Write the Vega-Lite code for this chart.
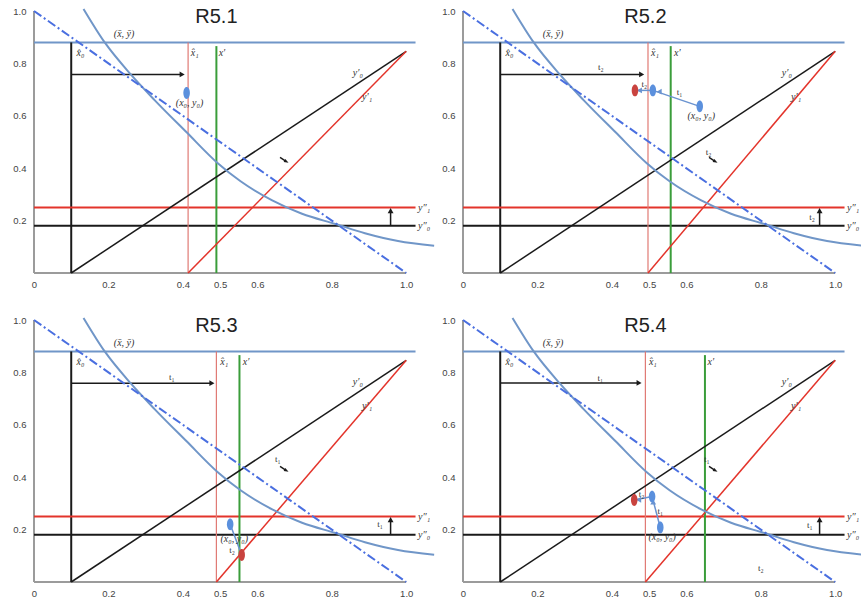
{
  "$schema": "https://vega.github.io/schema/vega-lite/v6.json",
  "padding": {"left": 12, "top": 4, "right": 0, "bottom": 0},
  "background": "white",
  "bounds": "flush",
  "columns": 2,
  "spacing": {"row": 47, "column": 27},
  "data": {"values": [
    {"p":[1,2,3,4],"k":"seg","s":"axis","x":0,"y":0,"x2":1,"y2":0},
    {"p":[1,2,3,4],"k":"seg","s":"axis","x":0,"y":0,"x2":0,"y2":1},
    {"p":[1,2,3,4],"k":"seg","s":"mean","x":0,"y":0.88,"x2":1.025,"y2":0.88},
    {"p":[1,2,3,4],"k":"seg","s":"x0hat","x":0.1,"y":0,"x2":0.1,"y2":0.88},
    {"p":[1,2,3,4],"k":"seg","s":"y0p","x":0.1,"y":0,"x2":1,"y2":0.846},
    {"p":[1,2,3,4],"k":"seg","s":"y1pp","x":0,"y":0.25,"x2":1.025,"y2":0.25},
    {"p":[1,2,3,4],"k":"seg","s":"y0pp","x":0,"y":0.18,"x2":1.025,"y2":0.18},
    {"p":[1,2,3,4],"k":"seg","s":"budget","x":0,"y":1,"x2":1,"y2":0},
    {"p":[1,2,3,4],"k":"seg","s":"arrow","x":0.958,"y":0.18,"x2":0.958,"y2":0.236},
    {"p":[1,2,3,4],"k":"seg","s":"arrow","x":0.661,"y":0.441,"x2":0.675,"y2":0.428},

    {"p":[1],"k":"seg","s":"x1hat","x":0.414,"y":0,"x2":0.414,"y2":0.88},
    {"p":[1],"k":"seg","s":"xprime","x":0.49,"y":0,"x2":0.49,"y2":0.866},
    {"p":[1],"k":"seg","s":"y1p","x":0.414,"y":0,"x2":1,"y2":0.846},
    {"p":[1],"k":"seg","s":"arrow","x":0.1,"y":0.758,"x2":0.397,"y2":0.758},

    {"p":[2],"k":"seg","s":"x1hat","x":0.497,"y":0,"x2":0.497,"y2":0.88},
    {"p":[2],"k":"seg","s":"xprime","x":0.558,"y":0,"x2":0.558,"y2":0.866},
    {"p":[2],"k":"seg","s":"y1p","x":0.497,"y":0,"x2":1,"y2":0.846},
    {"p":[2],"k":"seg","s":"arrow","x":0.1,"y":0.758,"x2":0.479,"y2":0.758},
    {"p":[2],"k":"seg","s":"path","x":0.636,"y":0.636,"x2":0.51,"y2":0.697},
    {"p":[2],"k":"seg","s":"path","x":0.51,"y":0.697,"x2":0.462,"y2":0.697},

    {"p":[3],"k":"seg","s":"x1hat","x":0.49,"y":0,"x2":0.49,"y2":0.88},
    {"p":[3],"k":"seg","s":"xprime","x":0.552,"y":0,"x2":0.552,"y2":0.866},
    {"p":[3],"k":"seg","s":"y1p","x":0.49,"y":0,"x2":1,"y2":0.846},
    {"p":[3],"k":"seg","s":"arrow","x":0.1,"y":0.759,"x2":0.477,"y2":0.759},
    {"p":[3],"k":"seg","s":"path","x":0.527,"y":0.22,"x2":0.558,"y2":0.103},

    {"p":[4],"k":"seg","s":"x1hat","x":0.49,"y":0,"x2":0.49,"y2":0.88},
    {"p":[4],"k":"seg","s":"xprime","x":0.65,"y":0,"x2":0.65,"y2":0.866},
    {"p":[4],"k":"seg","s":"y1p","x":0.49,"y":0,"x2":1,"y2":0.846},
    {"p":[4],"k":"seg","s":"arrow","x":0.1,"y":0.76,"x2":0.472,"y2":0.76},
    {"p":[4],"k":"seg","s":"path","x":0.53,"y":0.208,"x2":0.508,"y2":0.326},
    {"p":[4],"k":"seg","s":"path","x":0.508,"y":0.326,"x2":0.46,"y2":0.313},

    {"p":[1,2,3,4],"k":"curve","x":0.133,"y":1.008},
    {"p":[1,2,3,4],"k":"curve","x":0.19,"y":0.88},
    {"p":[1,2,3,4],"k":"curve","x":0.26,"y":0.758},
    {"p":[1,2,3,4],"k":"curve","x":0.324,"y":0.66},
    {"p":[1,2,3,4],"k":"curve","x":0.41,"y":0.537},
    {"p":[1,2,3,4],"k":"curve","x":0.493,"y":0.42},
    {"p":[1,2,3,4],"k":"curve","x":0.555,"y":0.35},
    {"p":[1,2,3,4],"k":"curve","x":0.64,"y":0.277},
    {"p":[1,2,3,4],"k":"curve","x":0.72,"y":0.226},
    {"p":[1,2,3,4],"k":"curve","x":0.81,"y":0.187},
    {"p":[1,2,3,4],"k":"curve","x":0.889,"y":0.152},
    {"p":[1,2,3,4],"k":"curve","x":0.978,"y":0.122},
    {"p":[1,2,3,4],"k":"curve","x":1.075,"y":0.104},

    {"p":[1,2,3,4],"k":"head","s":"arrow","d":"up","x":0.958,"y":0.238},
    {"p":[1,2,3,4],"k":"head","s":"arrow","d":"se","x":0.677,"y":0.426},
    {"p":[1],"k":"head","s":"arrow","d":"right","x":0.398,"y":0.758},
    {"p":[2],"k":"head","s":"arrow","d":"right","x":0.48,"y":0.758},
    {"p":[2],"k":"head","s":"path","d":"left","x":0.527,"y":0.692},
    {"p":[2],"k":"head","s":"path","d":"left","x":0.474,"y":0.697},
    {"p":[3],"k":"head","s":"arrow","d":"right","x":0.478,"y":0.759},
    {"p":[4],"k":"head","s":"arrow","d":"right","x":0.473,"y":0.76},
    {"p":[4],"k":"head","s":"path","d":"up","x":0.511,"y":0.305},
    {"p":[4],"k":"head","s":"path","d":"left","x":0.472,"y":0.314},

    {"p":[1],"k":"dot","s":"dotblue","x":0.41,"y":0.687},
    {"p":[2],"k":"dot","s":"dotblue","x":0.636,"y":0.636},
    {"p":[2],"k":"dot","s":"dotblue","x":0.51,"y":0.697},
    {"p":[2],"k":"dot","s":"dotred","x":0.462,"y":0.697},
    {"p":[3],"k":"dot","s":"dotblue","x":0.527,"y":0.22},
    {"p":[3],"k":"dot","s":"dotred","x":0.558,"y":0.103},
    {"p":[4],"k":"dot","s":"dotblue","x":0.53,"y":0.208},
    {"p":[4],"k":"dot","s":"dotblue","x":0.508,"y":0.326},
    {"p":[4],"k":"dot","s":"dotred","x":0.46,"y":0.313},

    {"p":[1],"k":"title","t":"R5.1","x":0.49,"y":0.953},
    {"p":[2],"k":"title","t":"R5.2","x":0.49,"y":0.953},
    {"p":[3],"k":"title","t":"R5.3","x":0.49,"y":0.953},
    {"p":[4],"k":"title","t":"R5.4","x":0.49,"y":0.953},

    {"p":[1,2,3,4],"k":"m","t":"(x̄, ȳ)","x":0.242,"y":0.913},
    {"p":[1,2,3,4],"k":"m","t":"x̂₀","x":0.125,"y":0.838},
    {"p":[1,2,3,4],"k":"m","t":"y′₀","x":0.87,"y":0.762},
    {"p":[1,2,3,4],"k":"m","t":"y′₁","x":0.895,"y":0.67},
    {"p":[1,2,3,4],"k":"m","t":"y″₁","x":1.048,"y":0.25},
    {"p":[1,2,3,4],"k":"m","t":"y″₀","x":1.048,"y":0.18},
    {"p":[1],"k":"m","t":"x̂₁","x":0.432,"y":0.84},
    {"p":[2],"k":"m","t":"x̂₁","x":0.516,"y":0.84},
    {"p":[3],"k":"m","t":"x̂₁","x":0.511,"y":0.84},
    {"p":[4],"k":"m","t":"x̂₁","x":0.51,"y":0.84},
    {"p":[1],"k":"m","t":"x′","x":0.505,"y":0.84},
    {"p":[2],"k":"m","t":"x′","x":0.576,"y":0.84},
    {"p":[3],"k":"m","t":"x′","x":0.57,"y":0.84},
    {"p":[4],"k":"m","t":"x′","x":0.666,"y":0.84},
    {"p":[1],"k":"m","t":"(x₀, y₀)","x":0.418,"y":0.65},
    {"p":[2],"k":"m","t":"(x₀, y₀)","x":0.64,"y":0.6},
    {"p":[3],"k":"m","t":"(x₀, y₀)","x":0.538,"y":0.165},
    {"p":[4],"k":"m","t":"(x₀, y₀)","x":0.535,"y":0.17},

    {"p":[2],"k":"tl","t":"t₂","x":0.37,"y":0.785},
    {"p":[2],"k":"tl","t":"t₂","x":0.487,"y":0.72},
    {"p":[2],"k":"tl","t":"t₁","x":0.582,"y":0.69},
    {"p":[2],"k":"tl","t":"t₂","x":0.66,"y":0.463},
    {"p":[2],"k":"tl","t":"t₂","x":0.938,"y":0.213},
    {"p":[3],"k":"tl","t":"t₁","x":0.37,"y":0.783},
    {"p":[3],"k":"tl","t":"t₁","x":0.655,"y":0.47},
    {"p":[3],"k":"tl","t":"t₁","x":0.93,"y":0.22},
    {"p":[3],"k":"tl","t":"t₂","x":0.532,"y":0.123},
    {"p":[4],"k":"tl","t":"t₁","x":0.369,"y":0.78},
    {"p":[4],"k":"tl","t":"t₁","x":0.655,"y":0.468},
    {"p":[4],"k":"tl","t":"t₁","x":0.932,"y":0.217},
    {"p":[4],"k":"tl","t":"t₁","x":0.53,"y":0.271},
    {"p":[4],"k":"tl","t":"t₂","x":0.48,"y":0.337},
    {"p":[4],"k":"tl","t":"t₂","x":0.8,"y":0.055}
  ]},
  "transform": [{"flatten": ["p"]}],
  "facet": {"field": "p", "type": "ordinal", "title": null,
    "header": {"labels": false, "title": null, "labelExpr": "''", "labelFontSize": 0, "labelPadding": 0}},
  "resolve": {"axis": {"x": "independent", "y": "independent"}},
  "spec": {
    "width": 402,
    "height": 262,
    "encoding": {
      "x": {"field": "x", "type": "quantitative",
        "scale": {"domain": [0, 1.08], "nice": false, "zero": false},
        "axis": {"title": null, "values": [0, 0.2, 0.4, 0.5, 0.6, 0.8, 1],
          "labelExpr": "datum.value == 0 ? '0' : format(datum.value, '.1f')",
          "domain": false, "ticks": false, "grid": false, "labelPadding": 6,
          "labelFontSize": 9.5, "labelColor": "#444", "labelFont": "Liberation Sans",
          "labelFlush": false, "labelOverlap": false, "labelBound": false}},
      "y": {"field": "y", "type": "quantitative",
        "scale": {"domain": [0, 1], "nice": false, "zero": false},
        "axis": {"title": null, "values": [0.2, 0.4, 0.6, 0.8, 1], "format": ".1f",
          "domain": false, "ticks": false, "grid": false, "labelPadding": 8,
          "labelFontSize": 9.5, "labelColor": "#444", "labelFont": "Liberation Sans",
          "labelFlush": false, "labelOverlap": false, "labelBound": false}},
      "color": {"field": "s", "type": "nominal", "legend": null,
        "scale": {
          "domain": ["axis","mean","x0hat","x1hat","xprime","y0p","y1p","y1pp","y0pp","budget","arrow","path","dotblue","dotred"],
          "range": ["#9b9b9b","#7096c8","#1a1a1a","#e07a74","#3a9d3a","#1a1a1a","#e3342b","#e3342b","#1a1a1a","#4a6fe0","#1a1a1a","#6a93d0","#5b90dd","#c9433f"]}}
    },
    "layer": [
      {"transform": [{"filter": "datum.k == 'seg' && indexof(['axis','mean','x0hat','xprime','y1pp','y0pp'], datum.s) >= 0"}],
       "mark": {"type": "rule", "strokeWidth": 2},
       "encoding": {"x2": {"field": "x2"}, "y2": {"field": "y2"}}},
      {"transform": [{"filter": "datum.k == 'seg' && datum.s == 'x1hat'"}],
       "mark": {"type": "rule", "strokeWidth": 1.2},
       "encoding": {"x2": {"field": "x2"}, "y2": {"field": "y2"}}},
      {"transform": [{"filter": "datum.k == 'seg' && indexof(['y0p','y1p','arrow','path'], datum.s) >= 0"}],
       "mark": {"type": "rule", "strokeWidth": 1.5},
       "encoding": {"x2": {"field": "x2"}, "y2": {"field": "y2"}}},
      {"transform": [{"filter": "datum.k == 'curve'"}],
       "mark": {"type": "line", "interpolate": "monotone", "color": "#7096c8", "strokeWidth": 2},
       "encoding": {"color": {"value": "#7096c8"}}},
      {"transform": [{"filter": "datum.k == 'seg' && datum.s == 'budget'"}],
       "mark": {"type": "rule", "strokeWidth": 2, "strokeDash": [9, 3, 2, 3]},
       "encoding": {"x2": {"field": "x2"}, "y2": {"field": "y2"}}},
      {"transform": [{"filter": "datum.k == 'head'"}],
       "mark": {"type": "point", "filled": true, "opacity": 1, "size": 34},
       "encoding": {"shape": {"field": "d", "type": "nominal", "legend": null,
         "scale": {"domain": ["right", "left", "up", "se"],
           "range": ["triangle-right", "triangle-left", "triangle-up", "M0.866,0.5L-0.22,-0.82L-0.82,0.22Z"]}}}},
      {"transform": [{"filter": "datum.k == 'dot'"}],
       "mark": {"type": "point", "filled": true, "opacity": 1, "size": 140,
         "shape": "M0,-1A0.55,1,0,1,1,0,1A0.55,1,0,1,1,0,-1Z"}},
      {"transform": [{"filter": "datum.k == 'title'"}],
       "mark": {"type": "text", "font": "Liberation Sans", "fontSize": 20, "align": "center", "baseline": "alphabetic", "color": "#222"},
       "encoding": {"text": {"field": "t"}, "color": {"value": "#222"}}},
      {"transform": [{"filter": "datum.k == 'm'"}],
       "mark": {"type": "text", "font": "Liberation Serif", "fontStyle": "italic", "fontSize": 10, "align": "center", "baseline": "middle"},
       "encoding": {"text": {"field": "t"}, "color": {"value": "#333"}}},
      {"transform": [{"filter": "datum.k == 'tl'"}],
       "mark": {"type": "text", "font": "Liberation Serif", "fontSize": 9, "align": "center", "baseline": "middle"},
       "encoding": {"text": {"field": "t"}, "color": {"value": "#333"}}}
    ]
  },
  "config": {"view": {"stroke": null},
    "header": {"labels": false, "title": null, "labelFontSize": 0, "labelPadding": 0},
    "headerFacet": {"labels": false, "labelFontSize": 0, "labelPadding": 0}}
}
